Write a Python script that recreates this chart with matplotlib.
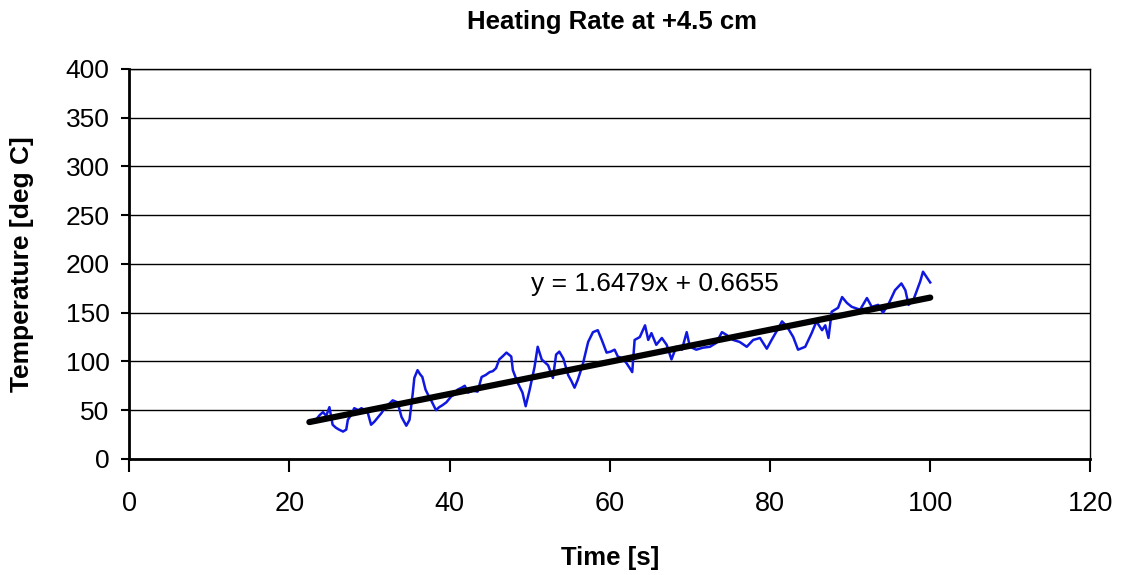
import matplotlib
matplotlib.use("Agg")
import matplotlib.pyplot as plt
import numpy as np

plt.rcParams['font.family'] = ['Liberation Sans', 'DejaVu Sans']

time_s = [23.3, 23.8, 24.2, 24.6, 25.0, 25.4, 25.8, 26.2, 26.7, 27.1, 27.3, 27.7,
          28.1, 28.6, 29.0, 29.4, 29.8, 30.2, 30.6, 31.0, 31.5, 31.9, 32.4, 32.9,
          33.5, 34.0, 34.6, 35.0, 35.4, 35.6, 36.0, 36.3, 36.6, 37.0, 37.3, 37.7,
          38.3, 38.7, 39.1, 39.6, 40.2, 40.6, 41.0, 41.5, 41.9, 42.3, 42.9, 43.5,
          44.0, 44.5, 45.0, 45.4, 45.8, 46.2, 46.6, 47.1, 47.7, 47.9, 48.5, 49.1,
          49.5, 50.0, 50.6, 51.0, 51.5, 52.3, 52.9, 53.3, 53.7, 54.2, 54.8, 55.2,
          55.6, 56.0, 56.6, 57.3, 57.9, 58.5, 59.0, 59.6, 60.1, 60.6, 61.0, 61.6,
          62.1, 62.5, 62.8, 63.1, 63.75, 64.4, 64.8, 65.2, 65.8, 66.5, 67.1, 67.7,
          68.3, 69.0, 69.6, 70.0, 70.8, 71.6, 72.5, 73.3, 74.0, 74.6, 75.4, 76.2,
          77.1, 77.9, 78.75, 79.6, 80.2, 80.9, 81.5, 82.1, 82.9, 83.5, 84.4, 85.2,
          85.8, 86.5, 86.9, 87.3, 87.7, 88.5, 89.0, 89.6, 90.2, 91.25, 92.1, 92.7,
          93.5, 94.1, 94.75, 95.6, 96.4, 96.9, 97.3, 97.9, 98.75, 99.1, 99.6, 100.0]
temp_c = [40, 45, 48, 44, 53, 35, 32, 30, 28, 30, 40, 45,
          52, 50, 52, 50, 47, 35, 38, 42, 47, 52, 56, 60,
          58, 43, 34, 40, 67, 83, 91, 87, 84, 71, 66, 60,
          50, 53, 55, 58, 64, 66, 71, 73, 75, 68, 70, 69,
          84, 86, 89, 90, 93, 102, 105, 109, 105, 91, 78, 68,
          54, 71, 94, 115, 102, 96, 83, 107, 110, 103, 86, 80,
          73, 81, 96, 120, 130, 132, 122, 109, 110, 112, 105, 103,
          98, 93, 89, 122, 125, 137, 122, 129, 117, 124, 117, 102,
          115, 112, 130, 115, 112, 114, 115, 119, 130, 127, 122, 120,
          115, 122, 124, 113, 122, 132, 141, 136, 125, 112, 115, 129,
          141, 132, 137, 124, 151, 155, 166, 160, 156, 153, 165, 156,
          158, 150, 158, 173, 180, 173, 158, 163, 182, 192, 186, 181]

# linear trendline shown on the chart
slope = 1.6479
intercept = 0.6655
trend_x = [22.5, 100.0]

fig = plt.figure(figsize=(11.23, 5.75), dpi=100)
ax = fig.add_axes([0.115, 0.202, 0.856, 0.678])

ax.set_xlim(0, 120)
ax.set_ylim(0, 400)
ax.set_yticks(np.arange(0, 401, 50))
ax.set_xticks(np.arange(0, 121, 20))
ax.yaxis.grid(True, color='black', linewidth=1.0)
ax.set_axisbelow(True)

ax.plot(time_s, temp_c, color='#1018e0', linewidth=1.8)
tx = np.array(trend_x)
ax.plot(tx, slope * tx + intercept, color='black', linewidth=4.5, solid_capstyle='round')

ax.text(65.6, 179.5, 'y = 1.6479x + 0.6655', fontsize=19, ha='center', va='center')

for s in ax.spines.values():
    s.set_color('black')
    s.set_linewidth(1.0)
ax.spines['left'].set_linewidth(2.0)
ax.spines['bottom'].set_linewidth(2.0)

ax.tick_params(axis='y', direction='out', length=6, width=1.5, labelsize=19, pad=8)
ax.tick_params(axis='x', direction='out', length=9, width=1.5, labelsize=19.5, pad=14)

fig.text(0.545, 0.962, 'Heating Rate at +4.5 cm', fontsize=18.5, fontweight='bold',
         ha='center', va='center')
fig.text(0.543, 0.03, 'Time [s]', fontsize=18.5, fontweight='bold', ha='center', va='center')
fig.text(0.02, 0.54, 'Temperature [deg C]', fontsize=19, fontweight='bold',
         ha='center', va='center', rotation=90)

fig.savefig('out.png', dpi=100)
